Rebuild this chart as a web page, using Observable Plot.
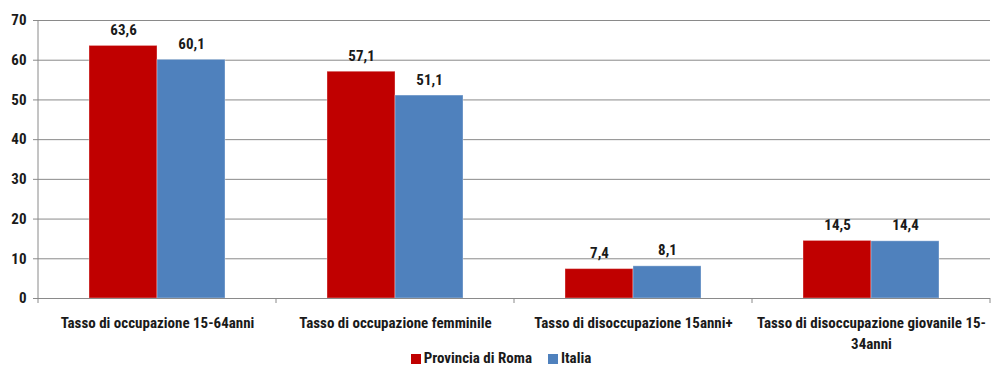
<!DOCTYPE html>
<html>
<head>
<meta charset="utf-8">
<script src="https://cdn.jsdelivr.net/npm/d3@7"></script>
<script src="https://cdn.jsdelivr.net/npm/@observablehq/plot@0.6"></script>
<style>
  html, body { margin: 0; padding: 0; background: #fff; }
  #chart { width: 1002px; height: 386px; position: relative; font-family: "Liberation Sans Narrow", "Roboto Condensed", "Liberation Sans", sans-serif; }
  .legend { position: absolute; top: 349px; left: 0; width: 1002px; display: flex; justify-content: center; gap: 16px; font-size: 15px; font-weight: bold; color: #1a1a1a; }
  .legend span.sw { display: inline-block; width: 10px; height: 10px; margin-right: 3px; vertical-align: -1px; }
</style>
</head>
<body>
<div id="chart"></div>
<script>
const categories = [
  "Tasso di occupazione 15-64anni",
  "Tasso di occupazione femminile",
  "Tasso di disoccupazione 15anni+",
  "Tasso di disoccupazione giovanile 15-34anni"
];
const categoryLabels = [
  "Tasso di occupazione 15-64anni",
  "Tasso di occupazione femminile",
  "Tasso di disoccupazione 15anni+",
  "Tasso di disoccupazione giovanile 15-\n34anni"
];
const series = ["Provincia di Roma", "Italia"];
const roma = [63.6, 57.1, 7.4, 14.5];
const italia = [60.1, 51.1, 8.1, 14.4];
const yTicks = [0, 10, 20, 30, 40, 50, 60, 70];
const colors = ["#C00000", "#4F81BD"];

const data = [];
categories.forEach((c, i) => {
  data.push({category: c, series: series[0], value: roma[i]});
  data.push({category: c, series: series[1], value: italia[i]});
});
const fmt = v => v.toFixed(1).replace(".", ",");
const labelOf = c => categoryLabels[categories.indexOf(c)];

const plot = Plot.plot({
  width: 1002,
  height: 346,
  marginLeft: 37,
  marginRight: 12,
  marginTop: 20,
  marginBottom: 48,
  style: {fontFamily: '"Liberation Sans Narrow", "Roboto Condensed", "Liberation Sans", sans-serif', fontSize: "15px", fontWeight: "bold", color: "#1a1a1a", background: "#fff", overflow: "visible"},
  fx: {domain: categories, padding: 0, label: null},
  x: {domain: series, paddingInner: 0, paddingOuter: 0.75, axis: null},
  y: {domain: [0, 70], label: null},
  color: {domain: series, range: colors},
  marks: [
    Plot.gridY(yTicks.slice(1), {stroke: "#8a8a8a", strokeOpacity: 1}),
    Plot.barY(data, {fx: "category", x: "series", y: "value", fill: "series", stroke: "#fff", strokeOpacity: 0.35, strokeWidth: 1}),
    Plot.text(data, {fx: "category", x: "series", y: "value", text: d => fmt(d.value), lineAnchor: "bottom", dy: -11, fill: "#1a1a1a"}),
    Plot.ruleY([0], {stroke: "#8a8a8a"}),
    Plot.axisY(yTicks, {tickSize: 5, tickPadding: 7, stroke: "#8a8a8a", fill: "#1a1a1a", label: null}),
    Plot.axisFx({anchor: "bottom", tickSize: 0, tickPadding: 15, tickFormat: labelOf, label: null, lineHeight: 1.4, fill: "#1a1a1a"})
  ]
});

// Category boundary ticks and y-axis line, from the plot's own scales
const fx = plot.scale("fx");
const y = plot.scale("y");
const y0 = y.apply(0), yTop = y.apply(70);
const bounds = categories.map(c => fx.apply(c)).concat([fx.apply(categories[categories.length - 1]) + fx.bandwidth]);
const g = d3.select(plot).append("g").attr("stroke", "#8a8a8a");
g.append("line").attr("x1", bounds[0]).attr("x2", bounds[0]).attr("y1", yTop).attr("y2", y0);
bounds.forEach(b => {
  g.append("line").attr("x1", b).attr("x2", b).attr("y1", y0).attr("y2", y0 + 5);
});

const chart = document.getElementById("chart");
chart.appendChild(plot);
const legend = document.createElement("div");
legend.className = "legend";
series.forEach((s, i) => {
  const item = document.createElement("div");
  item.innerHTML = `<span class="sw" style="background:${colors[i]}"></span>${s}`;
  legend.appendChild(item);
});
chart.appendChild(legend);
</script>
</body>
</html>
